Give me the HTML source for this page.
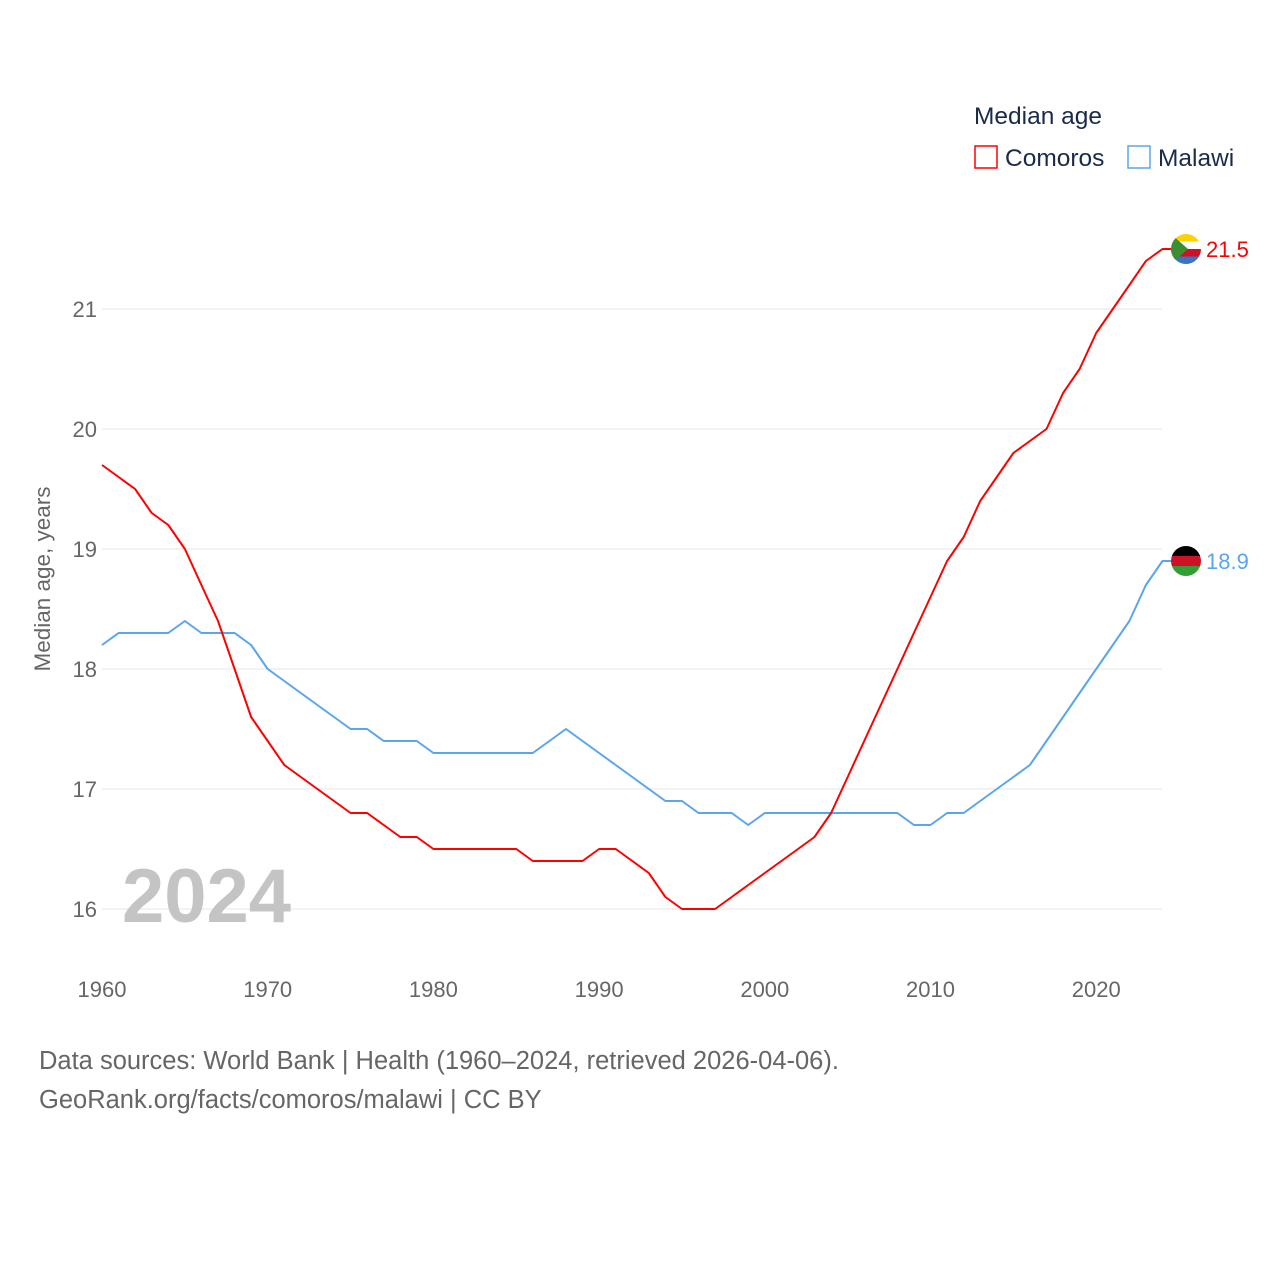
<!DOCTYPE html>
<html><head><meta charset="utf-8">
<style>
body{margin:0;background:#fff;font-family:"Liberation Sans",sans-serif;}
svg{display:block}
</style></head>
<body>
<svg id="chart" width="1280" height="1280" viewBox="0 0 1280 1280"></svg>
<script>
const years = [];
for (let y = 1960; y <= 2024; y++) years.push(y);
const comoros = [19.7,19.6,19.5,19.3,19.2,19.0,18.7,18.4,18.0,17.6,17.4,17.2,17.1,17.0,16.9,16.8,16.8,16.7,16.6,16.6,16.5,16.5,16.5,16.5,16.5,16.5,16.4,16.4,16.4,16.4,16.5,16.5,16.4,16.3,16.1,16.0,16.0,16.0,16.1,16.2,16.3,16.4,16.5,16.6,16.8,17.1,17.4,17.7,18.0,18.3,18.6,18.9,19.1,19.4,19.6,19.8,19.9,20.0,20.3,20.5,20.8,21.0,21.2,21.4,21.5];
const malawi = [18.2,18.3,18.3,18.3,18.3,18.4,18.3,18.3,18.3,18.2,18.0,17.9,17.8,17.7,17.6,17.5,17.5,17.4,17.4,17.4,17.3,17.3,17.3,17.3,17.3,17.3,17.3,17.4,17.5,17.4,17.3,17.2,17.1,17.0,16.9,16.9,16.8,16.8,16.8,16.7,16.8,16.8,16.8,16.8,16.8,16.8,16.8,16.8,16.8,16.7,16.7,16.8,16.8,16.9,17.0,17.1,17.2,17.4,17.6,17.8,18.0,18.2,18.4,18.7,18.9];
const yTicks = [16,17,18,19,20,21];
const xTicks = [1960,1970,1980,1990,2000,2010,2020];

const NS = "http://www.w3.org/2000/svg";
const svg = document.getElementById('chart');
const X = y => 102 + (y - 1960) * (1162.5 - 102) / 64;
const Y = v => 909 - (v - 16) * 120;
function el(tag, attrs, parent) {
  const e = document.createElementNS(NS, tag);
  for (const k in attrs) e.setAttribute(k, attrs[k]);
  (parent || svg).appendChild(e);
  return e;
}
function txt(s, attrs) { const t = el('text', attrs); t.textContent = s; return t; }

yTicks.forEach(v => {
  const g = el('line', {x1:102, x2:1162, y1:Y(v), y2:Y(v), stroke:'#e6e6e6', 'stroke-width':1});
  
  
  const t = txt(String(v), {x:97, y:Y(v)+8, 'text-anchor':'end', 'font-size':22, fill:'#666'});
  
  
});
xTicks.forEach(v => {
  const t = txt(String(v), {x:X(v), y:997, 'text-anchor':'middle', 'font-size':22, fill:'#666'});
  
  
});

const yt = txt('Median age, years', {x:0, y:0, transform:'translate(50,579) rotate(-90)', 'text-anchor':'middle', 'font-size':22.5, fill:'#666'});



const yr = txt('2024', {x:122, y:922, 'font-size':76, 'font-weight':'bold', fill:'#c4c4c4'});



function series(vals, color, name) {
  let d = vals.map((v,i) => (i ? 'L' : 'M') + X(years[i]).toFixed(1) + ',' + Y(v).toFixed(1)).join('');
  d += 'L1172,' + Y(vals[vals.length-1]).toFixed(1);
  const p = el('path', {d:d, fill:'none', stroke:color, 'stroke-width':2, 'stroke-linejoin':'round'});
  
  
}
series(malawi, '#5aa5ec', 'malawi');
series(comoros, '#ff0000', 'comoros');

const cy1 = Y(comoros[comoros.length-1]), cy2 = Y(malawi[malawi.length-1]);
const defs = el('defs', {});
const c1 = el('clipPath', {id:'cf1'}, defs); el('circle', {cx:1186, cy:cy1, r:15}, c1);
const c2 = el('clipPath', {id:'cf2'}, defs); el('circle', {cx:1186, cy:cy2, r:15}, c2);
const f1 = el('g', {'clip-path':'url(#cf1)'});


[['#ffd100',0],['#fff',1],['#ce1126',2],['#3a75c4',3]].forEach(([c,i]) => el('rect', {x:1171, y:cy1-15+i*7.5, width:30, height:7.5, fill:c}, f1));
el('path', {d:`M1171,${cy1-15}L1188,${cy1}L1171,${cy1+15}Z`, fill:'#3d8e33'}, f1);
const f2 = el('g', {'clip-path':'url(#cf2)'});


[['#000',0],['#ce1126',1],['#339e35',2]].forEach(([c,i]) => el('rect', {x:1171, y:cy2-15+i*10, width:30, height:10, fill:c}, f2));

const l1 = txt('21.5', {x:1206, y:cy1+8, 'font-size':22, fill:'#ff0000'});


const l2 = txt('18.9', {x:1206, y:cy2+8, 'font-size':22, fill:'#5aa5ec'});



const lt = txt('Median age', {x:974, y:124, 'font-size':24.5, fill:'#1a2a4a'});


const lg1 = el('g', {});


el('rect', {x:975, y:146, width:22, height:22, fill:'none', stroke:'#ff0000', 'stroke-width':1.5}, lg1);
const lgt1 = el('text', {x:1005, y:166, 'font-size':24.5, fill:'#1a2a4a'}, lg1); lgt1.textContent = 'Comoros';
const lg2 = el('g', {});


el('rect', {x:1128, y:146, width:22, height:22, fill:'none', stroke:'#5aa5ec', 'stroke-width':1.5}, lg2);
const lgt2 = el('text', {x:1158, y:166, 'font-size':24.5, fill:'#1a2a4a'}, lg2); lgt2.textContent = 'Malawi';

const s1 = txt('Data sources: World Bank | Health (1960–2024, retrieved 2026-04-06).', {x:39, y:1069, 'font-size':25.5, fill:'#666'});


const s2 = txt('GeoRank.org/facts/comoros/malawi | CC BY', {x:39, y:1108, 'font-size':25.5, fill:'#666'});


</script>
</body></html>
